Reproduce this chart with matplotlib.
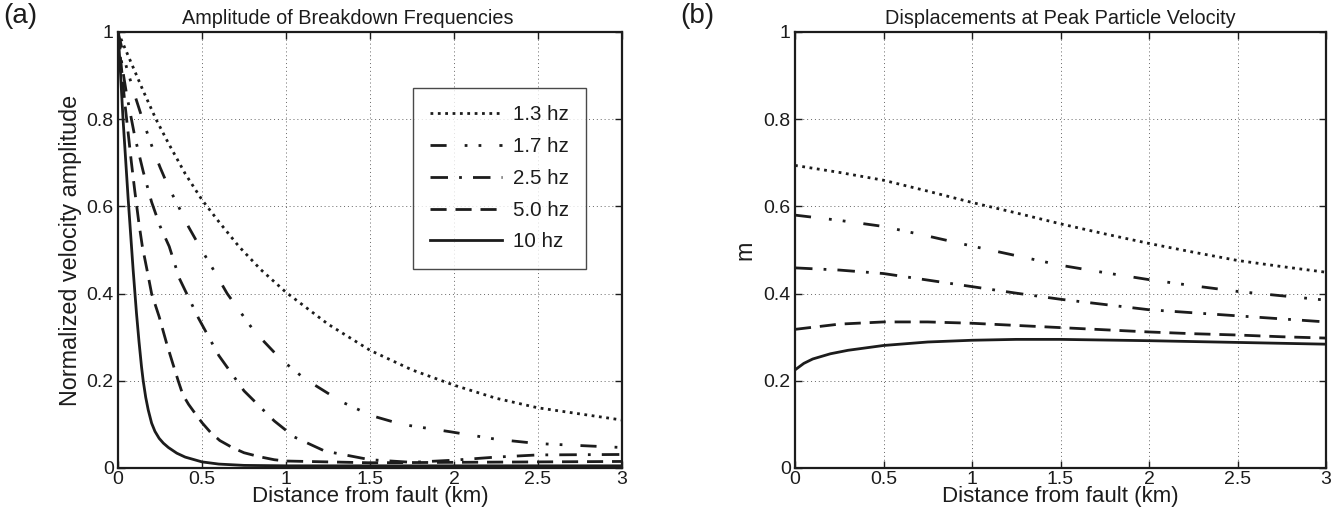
import matplotlib
matplotlib.use('Agg')
import matplotlib.pyplot as plt
import matplotlib.ticker as mticker

plt.rcParams['font.family'] = ['Liberation Sans', 'DejaVu Sans']

freq_labels = ['1.3 hz', '1.7 hz', '2.5 hz', '5.0 hz', '10 hz']

# (a) normalized velocity amplitude of breakdown frequencies
amp_x_13 = [0, 0.05, 0.1, 0.15, 0.226, 0.3, 0.4, 0.5, 0.6, 0.72, 0.85, 1.0, 1.25, 1.5, 1.75, 2.0, 2.25, 2.5, 2.75, 3.0]
amp_y_13 = [1, 0.955, 0.91, 0.865, 0.8, 0.745, 0.675, 0.615, 0.565, 0.508, 0.455, 0.403, 0.33, 0.27, 0.225, 0.19, 0.16, 0.138, 0.124, 0.11]

amp_x_17 = [0, 0.05, 0.1, 0.15, 0.2, 0.25, 0.3, 0.36, 0.42, 0.486, 0.56, 0.65, 0.81, 0.97, 1.11, 1.33, 1.51, 1.69, 1.98, 2.25, 2.5, 3.0]
amp_y_17 = [1, 0.92, 0.855, 0.795, 0.74, 0.69, 0.645, 0.6, 0.553, 0.508, 0.46, 0.4, 0.314, 0.249, 0.205, 0.152, 0.12, 0.1, 0.083, 0.066, 0.056, 0.047]

amp_x_25 = [0, 0.025, 0.05, 0.1, 0.15, 0.2, 0.25, 0.305, 0.365, 0.48, 0.6, 0.75, 0.93, 1.05, 1.23, 1.5, 1.75, 2.0, 2.25, 2.5, 3.0]
amp_y_25 = [1, 0.92, 0.86, 0.76, 0.68, 0.61, 0.555, 0.508, 0.435, 0.343, 0.258, 0.177, 0.108, 0.071, 0.039, 0.019, 0.013, 0.018, 0.025, 0.03, 0.031]

amp_x_50 = [0, 0.02, 0.04, 0.06, 0.08, 0.1, 0.125, 0.145, 0.175, 0.2, 0.245, 0.29, 0.325, 0.36, 0.386, 0.42, 0.45, 0.5, 0.55, 0.606, 0.68, 0.75, 0.84, 0.93, 1.0, 1.5, 2.0, 2.5, 3.0]
amp_y_50 = [1, 0.92, 0.84, 0.77, 0.70, 0.635, 0.56, 0.508, 0.45, 0.40, 0.347, 0.285, 0.241, 0.198, 0.168, 0.146, 0.13, 0.104, 0.082, 0.063, 0.047, 0.035, 0.026, 0.019, 0.016, 0.012, 0.013, 0.014, 0.015]

amp_x_10 = [0, 0.01, 0.02, 0.03, 0.04, 0.05, 0.06, 0.07, 0.08, 0.09, 0.1, 0.11, 0.125, 0.14, 0.15, 0.165, 0.18, 0.2, 0.22, 0.245, 0.27, 0.3, 0.35, 0.4, 0.5, 0.6, 0.75, 1.0, 3.0]
amp_y_10 = [1, 0.94, 0.87, 0.8, 0.74, 0.68, 0.62, 0.565, 0.51, 0.455, 0.405, 0.355, 0.29, 0.232, 0.2, 0.162, 0.133, 0.103, 0.084, 0.068, 0.057, 0.047, 0.034, 0.025, 0.014, 0.009, 0.006, 0.005, 0.005]

# (b) displacements at peak particle velocity
disp_x = [0, 0.25, 0.5, 0.75, 1.0, 1.25, 1.5, 1.75, 2.0, 2.25, 2.5, 2.75, 3.0]
disp_13 = [0.694, 0.678, 0.660, 0.635, 0.609, 0.585, 0.560, 0.537, 0.515, 0.495, 0.476, 0.462, 0.449]
disp_17 = [0.580, 0.568, 0.554, 0.532, 0.509, 0.487, 0.465, 0.448, 0.432, 0.418, 0.405, 0.395, 0.385]
disp_25 = [0.459, 0.454, 0.446, 0.431, 0.416, 0.401, 0.387, 0.375, 0.363, 0.356, 0.349, 0.342, 0.335]
disp_50 = [0.318, 0.330, 0.335, 0.335, 0.332, 0.327, 0.322, 0.317, 0.312, 0.308, 0.305, 0.301, 0.298]

disp_x_10 = [0, 0.05, 0.1, 0.2, 0.3, 0.5, 0.75, 1.0, 1.25, 1.5, 2.0, 2.5, 3.0]
disp_10 = [0.225, 0.240, 0.250, 0.262, 0.270, 0.281, 0.289, 0.293, 0.295, 0.295, 0.292, 0.288, 0.284]

line_styles = [
    (0, (1, 1.65)),                      # dotted
    (0, (5.8, 6.5, 1, 4, 1, 6.5)),       # dash-dot-dot
    (0, (6.3, 4, 1, 4)),                 # dash-dot
    (0, (5.8, 3.2)),                     # dashed
    '-',
]
ink = '#1c1c1c'
lw = 2.0
tick_fs = 14
title_fs = 14.3
legend_fs = 14.8
xlabel_fs = 16
ylabel_fs = 16.8

fig = plt.figure(figsize=(13.36, 5.18), dpi=100)
W, H = 1336, 518
top, bottom = 32, 468
ax_a = fig.add_axes([118 / W, 1 - bottom / H, (622 - 118) / W, (bottom - top) / H])
ax_b = fig.add_axes([795 / W, 1 - bottom / H, (1326 - 795) / W, (bottom - top) / H])


def style_axes(ax):
    ax.set_xlim(0, 3)
    ax.set_ylim(0, 1)
    ax.set_xticks([0, 0.5, 1, 1.5, 2, 2.5, 3])
    ax.set_yticks([0, 0.2, 0.4, 0.6, 0.8, 1])
    ax.xaxis.set_major_formatter(mticker.FormatStrFormatter('%g'))
    ax.yaxis.set_major_formatter(mticker.FormatStrFormatter('%g'))
    ax.set_axisbelow(True)
    ax.grid(True, color='0.4', linewidth=0.7, linestyle=(0, (1, 3)))
    for sp in ax.spines.values():
        sp.set_linewidth(1.6)
        sp.set_color(ink)
    ax.tick_params(direction='in', length=5, width=1, top=True, right=True,
                   labelsize=tick_fs, colors=ink)
    ax.tick_params(axis='x', pad=2)
    ax.tick_params(axis='y', pad=3)


series_a = [(amp_x_13, amp_y_13), (amp_x_17, amp_y_17), (amp_x_25, amp_y_25),
            (amp_x_50, amp_y_50), (amp_x_10, amp_y_10)]
for (x, y), ls, lab in zip(series_a, line_styles, freq_labels):
    ax_a.plot(x, y, color=ink, lw=lw, linestyle=ls, label=lab)
style_axes(ax_a)
ax_a.set_title('Amplitude of Breakdown Frequencies', fontsize=title_fs, color=ink,
               pad=6, x=0.455)
ax_a.set_xlabel('Distance from fault (km)', fontsize=xlabel_fs, color=ink, labelpad=-1)
ax_a.set_ylabel('Normalized velocity amplitude', fontsize=ylabel_fs, color=ink, labelpad=3)
leg = ax_a.legend(loc='upper left', bbox_to_anchor=(413 / W, 1 - 88 / H),
                  bbox_transform=fig.transFigure, fontsize=legend_fs, frameon=True,
                  fancybox=False, handlelength=3.5, handletextpad=0.5,
                  labelspacing=0.62, borderpad=0.85, borderaxespad=0)
leg.get_frame().set_edgecolor(ink)
leg.get_frame().set_linewidth(1.0)
for t in leg.get_texts():
    t.set_color(ink)

series_b = [(disp_x, disp_13), (disp_x, disp_17), (disp_x, disp_25),
            (disp_x, disp_50), (disp_x_10, disp_10)]
for (x, y), ls in zip(series_b, line_styles):
    ax_b.plot(x, y, color=ink, lw=lw, linestyle=ls)
style_axes(ax_b)
ax_b.set_title('Displacements at Peak Particle Velocity', fontsize=title_fs, color=ink, pad=6)
ax_b.set_xlabel('Distance from fault (km)', fontsize=xlabel_fs, color=ink, labelpad=-1)
ax_b.set_ylabel('m', fontsize=ylabel_fs, color=ink, labelpad=5)

fig.text(3 / W, 1 - 3 / H, '(a)', fontsize=20, color=ink, va='top', ha='left')
fig.text(680 / W, 1 - 3 / H, '(b)', fontsize=20, color=ink, va='top', ha='left')

fig.savefig('out.png', dpi=100)
